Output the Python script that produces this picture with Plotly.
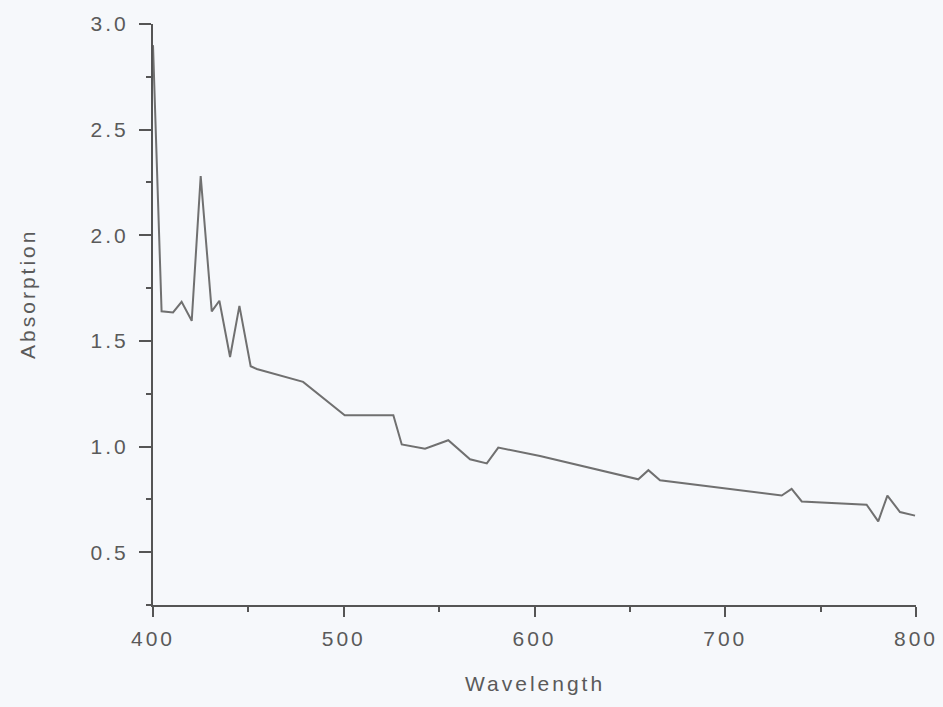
import plotly.graph_objects as go

# Data
wavelength = [400, 402, 404.5, 410.5, 415, 420.3, 425, 430.8, 434.8, 440.4, 445.3,
              451.2, 454.4, 478.7, 500.5, 526, 530.4, 542.6, 554.8, 566.2, 575,
              581, 602.9, 654.4, 659.7, 665.8, 729.6, 734.8, 740.1, 774.1, 780.2,
              785, 791.6, 799.5]
absorption = [2.9, 2.3, 1.64, 1.635, 1.685, 1.595, 2.28, 1.64, 1.69, 1.424, 1.666,
              1.38, 1.367, 1.306, 1.148, 1.148, 1.01, 0.99, 1.03, 0.94, 0.92,
              0.995, 0.955, 0.845, 0.888, 0.84, 0.768, 0.80, 0.74, 0.725, 0.646,
              0.768, 0.69, 0.673]

x_ticks = [400, 500, 600, 700, 800]
y_ticks = [0.5, 1.0, 1.5, 2.0, 2.5, 3.0]
y_tick_text = ["0.5", "1.0", "1.5", "2.0", "2.5", "3.0"]

bg = "#f6f8fb"
axis_col = "#555555"
text_col = "#5a5a5a"
font_family = "Liberation Sans, Arial, sans-serif"
fs = 21

fig = go.Figure()
fig.add_trace(go.Scatter(
    x=wavelength, y=absorption, mode="lines",
    line=dict(color="#707070", width=2),
    showlegend=False, hoverinfo="skip",
))

fig.update_layout(
    width=943, height=707,
    paper_bgcolor=bg, plot_bgcolor=bg,
    margin=dict(l=153, r=27, t=24, b=102, autoexpand=False),
    font=dict(family=font_family, size=fs, color=text_col),
    showlegend=False,
)

fig.update_xaxes(
    range=[400, 800], tickvals=x_ticks, showgrid=False, zeroline=False,
    showline=True, linecolor=axis_col, linewidth=2, automargin=False,
    ticks="outside", ticklen=10, tickwidth=2, tickcolor=axis_col,
    minor=dict(dtick=50, ticks="outside", ticklen=5, tickwidth=2, tickcolor=axis_col, showgrid=False),
    tickfont=dict(size=fs, color=text_col), ticklabelstandoff=4,
)
fig.update_yaxes(
    range=[0.25, 3.0], tickvals=y_ticks, ticktext=y_tick_text, showgrid=False,
    zeroline=False, showline=True, linecolor=axis_col, linewidth=2, automargin=False,
    ticks="outside", ticklen=12, tickwidth=2, tickcolor=axis_col,
    minor=dict(dtick=0.25, ticks="outside", ticklen=5, tickwidth=2, tickcolor=axis_col, showgrid=False),
    tickfont=dict(size=fs, color=text_col), ticklabelstandoff=6,
)

fig.add_annotation(text="Wavelength", xref="paper", yref="paper", x=0.5, y=0,
                   yshift=-92, showarrow=False, font=dict(size=fs, color=text_col))
fig.add_annotation(text="Absorption", xref="paper", x=0, xshift=-139, yref="y",
                   y=1.72, textangle=-90, showarrow=False,
                   font=dict(size=fs, color=text_col))

fig.write_html("out.html", post_script=(
    "var s=document.createElement('style');"
    "s.textContent='.xtick text,.ytick text,.annotation-text{letter-spacing:3px}';"
    "document.head.appendChild(s);"))
